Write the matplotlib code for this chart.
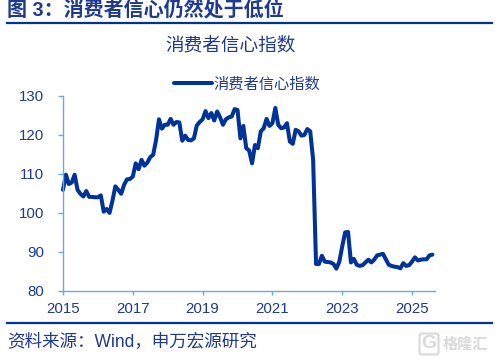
import numpy as np
import matplotlib
matplotlib.use("Agg")
import matplotlib.pyplot as plt
from matplotlib.lines import Line2D

plt.rcParams["font.family"] = ["Liberation Sans", "Noto Sans CJK SC", "DejaVu Sans"]

# monthly index, first point is Jan 2015
confidence = [
    105.8, 109.7, 107.3, 107.7, 109.7, 105.8, 104.8, 104.1, 105.5, 104.0, 104.0, 103.9,
    103.9, 104.4, 100.2, 100.9, 99.9, 103.0, 106.7, 105.8, 104.8, 107.1, 108.5, 108.6,
    109.2, 112.6, 111.1, 113.5, 112.0, 112.8, 114.2, 114.8, 118.6, 123.9, 121.5, 122.5,
    122.5, 124.0, 122.5, 123.2, 123.1, 118.4, 119.7, 118.6, 118.5, 119.0, 122.3, 123.2,
    123.9, 126.0, 124.2, 125.5, 123.6, 125.9, 124.4, 122.5, 123.9, 124.4, 124.6, 126.5,
    126.3, 119.0, 122.2, 116.5, 115.9, 112.6, 117.3, 116.5, 120.8, 121.6, 124.0, 122.2,
    122.9, 126.8, 122.5, 121.6, 121.8, 122.9, 118.2, 117.6, 121.2, 120.8, 119.7, 119.9,
    121.4, 120.8, 113.5, 86.8, 86.8, 88.9, 87.4, 87.3, 87.2, 86.8, 85.6, 87.4,
    91.3, 94.9, 95.0, 87.2, 88.1, 86.6, 86.3, 86.5, 87.2, 87.9, 87.2, 87.9,
    89.0, 89.2, 89.4, 88.0, 86.6, 86.3, 86.1, 86.0, 85.7, 87.0, 86.3, 86.5,
    87.4, 88.5, 87.7, 87.9, 88.0, 88.0, 89.0, 89.2,
]
year_labels = ["2015", "2017", "2019", "2021", "2023", "2025"]
y_ticks = [80, 90, 100, 110, 120, 130]

W, H = 495, 362
TEXT = "#1F3A8F"
NAVY = "#003399"
AXIS = "#6FA8DC"

fig = plt.figure(figsize=(W / 100, H / 100), dpi=100)
ax = fig.add_axes([63 / W, 1 - 290.5 / H, (435 - 63) / W, 195 / H])

months = np.arange(len(confidence))
ax.plot(months, confidence, color=NAVY, lw=2.9, label="消费者信心指数",
        solid_joinstyle="round", solid_capstyle="round", clip_on=False)

ax.set_xlim(0, 127.9)
ax.set_ylim(80, 130)
ax.set_xticks(np.arange(len(year_labels)) * 24)
ax.set_xticklabels(year_labels)
ax.set_yticks(y_ticks)

for side in ["top", "right"]:
    ax.spines[side].set_visible(False)
for side in ["left", "bottom"]:
    ax.spines[side].set_color(AXIS)
    ax.spines[side].set_linewidth(1.0)
ax.tick_params(axis="y", direction="out", length=3.4, width=1, color=AXIS,
               labelcolor=TEXT, labelsize=10.8, pad=10)
ax.tick_params(axis="x", direction="out", length=3.1, width=1, color=AXIS,
               labelcolor=TEXT, labelsize=10.8, pad=5)

ax.legend(loc="center", bbox_to_anchor=(184 / 372, 1 + 11.5 / 195), frameon=False,
          fontsize=11, labelcolor=TEXT, handlelength=2.5, handletextpad=0.1,
          borderpad=0, borderaxespad=0)

fig.text(7 / W, 1 - 10 / H, "图 3：消费者信心仍然处于低位", color=TEXT, fontsize=14.45,
         fontweight="bold", va="center", ha="left")
fig.text(231 / W, 1 - 46 / H, "消费者信心指数", color=TEXT, fontsize=13.4,
         va="center", ha="center")
fig.text(7 / W, 1 - 342 / H, "资料来源：Wind，申万宏源研究", color=TEXT, fontsize=12.65,
         va="center", ha="left")

for y in [23, 322.7]:
    fig.add_artist(Line2D([7 / W, 492 / W], [1 - y / H, 1 - y / H], color=NAVY, lw=1.6))

# watermark
fig.text(443 / W, 1 - 345 / H, "格隆汇", color="#D9D9D9", fontsize=10.9,
         fontweight="bold", va="center", ha="left")
fig.text(429 / W, 1 - 344 / H, "G", color="#D9D9D9", fontsize=14, fontweight="bold",
         va="center", ha="center",
         bbox=dict(boxstyle="round,pad=0.1", fc="none", ec="#D9D9D9", lw=1.5))

fig.savefig("out.png", dpi=100)
